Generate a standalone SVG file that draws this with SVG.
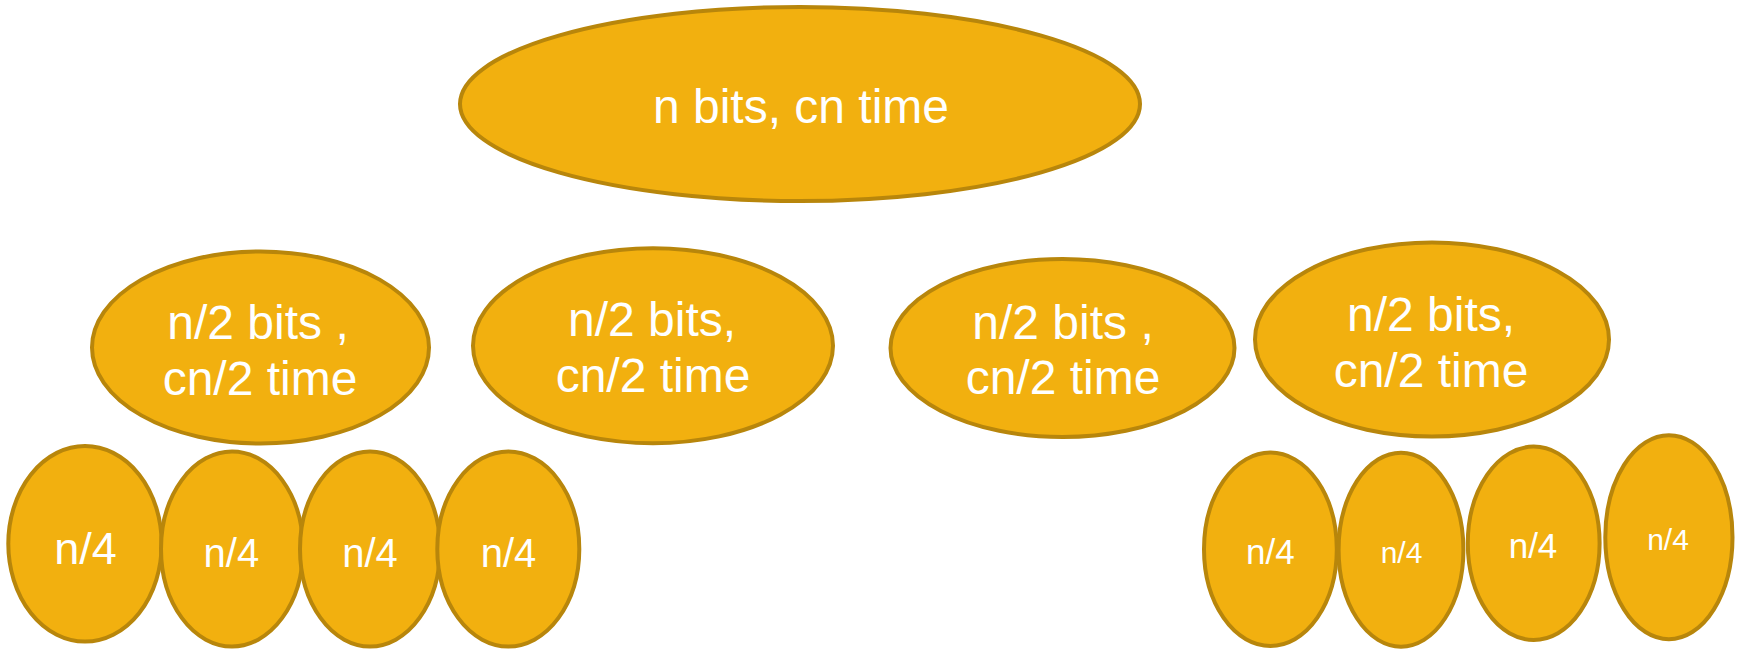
<svg xmlns="http://www.w3.org/2000/svg" width="1738" height="649" viewBox="0 0 1738 649">
<style>
.n{fill:#F2B00F;stroke:#B8860B;stroke-width:4}
.t{fill:#FFFFFF;font-family:"Liberation Sans",Arial,sans-serif;text-anchor:middle}
</style>
<rect width="1738" height="649" fill="#FFFFFF"/>
<g id="connectors"></g>
<g id="root">
<ellipse class="n" cx="800" cy="104" rx="340" ry="97"/>
<text class="t" x="801" y="123" font-size="48">n bits, cn time</text>
</g>
<g id="h1">
<ellipse class="n" cx="260.5" cy="347.5" rx="168.5" ry="96"/>
<text class="t" x="258" y="339" font-size="48">n/2 bits ,</text>
<text class="t" x="260" y="395" font-size="48">cn/2 time</text>
</g>
<g id="h2">
<ellipse class="n" cx="653" cy="345.7" rx="180" ry="97.5"/>
<text class="t" x="652" y="336" font-size="48">n/2 bits,</text>
<text class="t" x="653" y="392" font-size="48">cn/2 time</text>
</g>
<g id="h3">
<ellipse class="n" cx="1062.5" cy="348" rx="172" ry="89"/>
<text class="t" x="1063" y="339" font-size="48">n/2 bits ,</text>
<text class="t" x="1063" y="394" font-size="48">cn/2 time</text>
</g>
<g id="h4">
<ellipse class="n" cx="1432" cy="339.5" rx="177" ry="97"/>
<text class="t" x="1431" y="331" font-size="48">n/2 bits,</text>
<text class="t" x="1431" y="387" font-size="48">cn/2 time</text>
</g>
<g id="q1">
<ellipse class="n" cx="85" cy="543.8" rx="76.7" ry="97.8"/>
<text class="t" x="85.6" y="564" font-size="45">n/4</text>
</g>
<g id="q2">
<ellipse class="n" cx="232" cy="549" rx="71" ry="97.5"/>
<text class="t" x="231.4" y="567" font-size="40">n/4</text>
</g>
<g id="q3">
<ellipse class="n" cx="370" cy="549" rx="70" ry="97.5"/>
<text class="t" x="370" y="567" font-size="40">n/4</text>
</g>
<g id="q4">
<ellipse class="n" cx="508.3" cy="549" rx="71" ry="97.5"/>
<text class="t" x="508.5" y="567" font-size="40">n/4</text>
</g>
<g id="q5">
<ellipse class="n" cx="1270.4" cy="549.3" rx="66.4" ry="96.7"/>
<text class="t" x="1270.4" y="564" font-size="35">n/4</text>
</g>
<g id="q6">
<ellipse class="n" cx="1401" cy="549.7" rx="62.4" ry="97"/>
<text class="t" x="1401.5" y="562.7" font-size="30">n/4</text>
</g>
<g id="q7">
<ellipse class="n" cx="1533.7" cy="543.3" rx="65.9" ry="96.7"/>
<text class="t" x="1533" y="558.3" font-size="35">n/4</text>
</g>
<g id="q8">
<ellipse class="n" cx="1668.9" cy="537.2" rx="63.6" ry="102"/>
<text class="t" x="1668" y="550" font-size="30">n/4</text>
</g>
</svg>
